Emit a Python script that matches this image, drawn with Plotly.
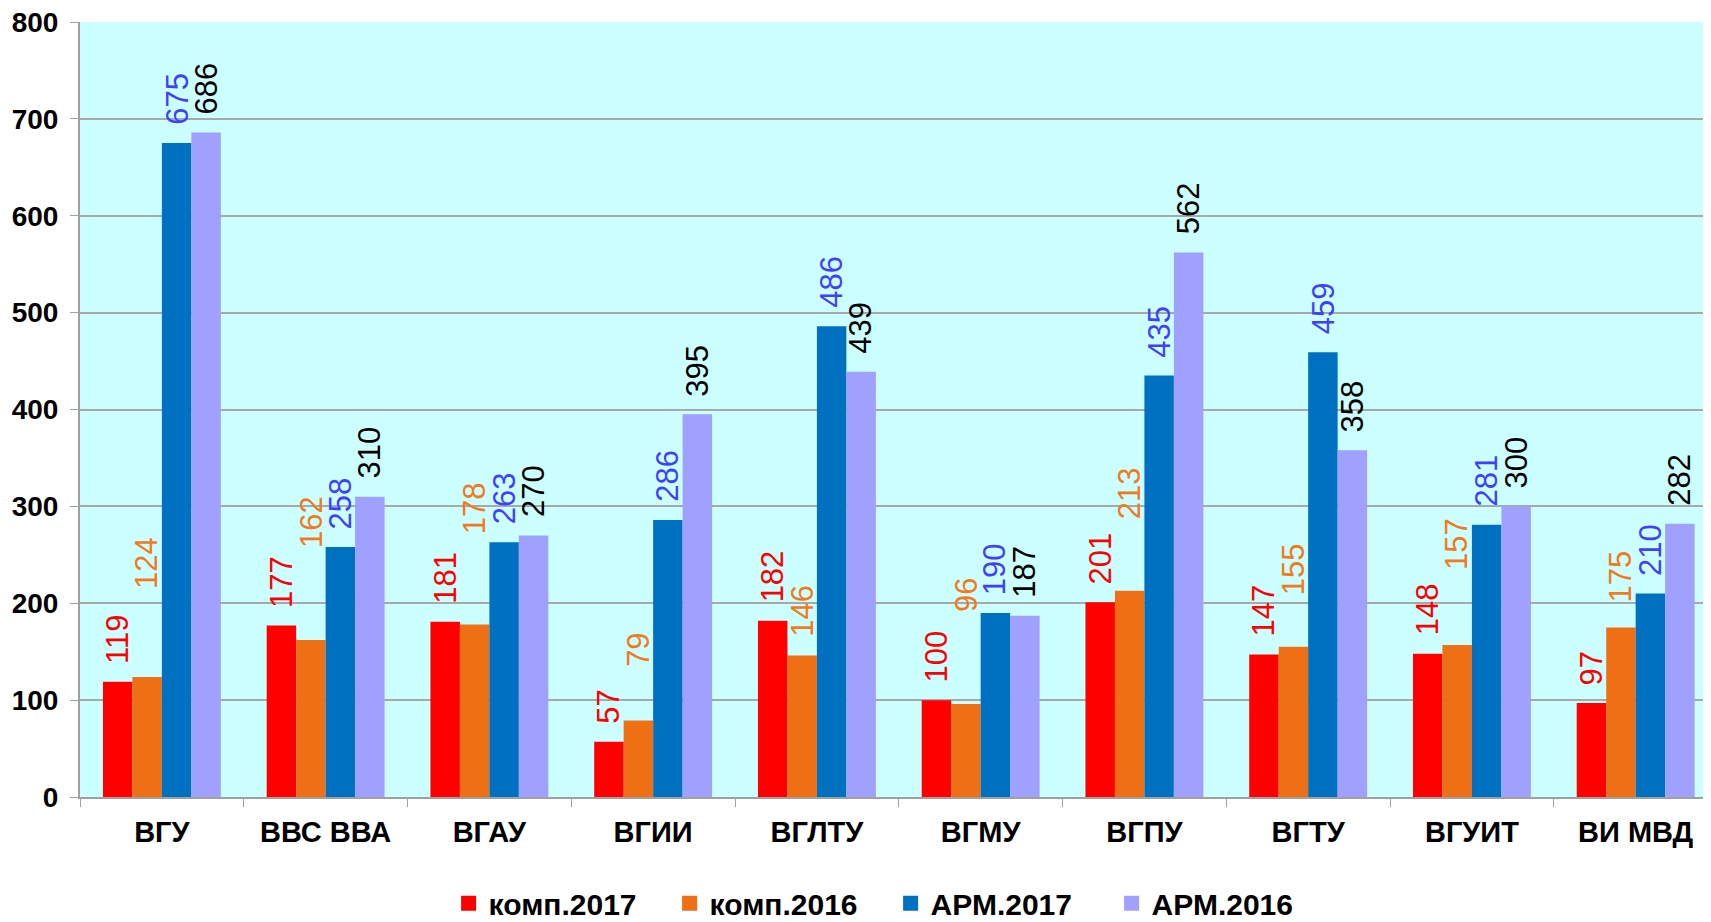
import plotly.graph_objects as go

categories = ["ВГУ", "ВВС ВВА", "ВГАУ", "ВГИИ", "ВГЛТУ", "ВГМУ", "ВГПУ", "ВГТУ", "ВГУИТ", "ВИ МВД"]

komp_2017 = [119, 177, 181, 57, 182, 100, 201, 147, 148, 97]
komp_2016 = [124, 162, 178, 79, 146, 96, 213, 155, 157, 175]
arm_2017 = [675, 258, 263, 286, 486, 190, 435, 459, 281, 210]
arm_2016 = [686, 310, 270, 395, 439, 187, 562, 358, 300, 282]

# extra lift (px) of the orange labels, which sit higher in the original
komp_2016_label_lift = [70, 74, 72, 36, 1, 74, 53, 34, 57, 7]

series = [
    ("комп.2017", komp_2017, "#ff0000", "#ff0000"),
    ("комп.2016", komp_2016, "#ef6f15", "#f27a1c"),
    ("АРМ.2017", arm_2017, "#0070c0", "#3f3fff"),
    ("АРМ.2016", arm_2016, "#a0a0ff", "#000000"),
]

bargap = 0.28
bar_w = (1 - bargap) / len(series)
base_gap = 17

fig = go.Figure()
annotations = []
for i, (name, vals, col, tcol) in enumerate(series):
    fig.add_trace(go.Bar(
        x=categories, y=vals, name=name, showlegend=False,
        marker=dict(color=col, line=dict(width=0)),
    ))
    # legend entry with a bigger square, like the original
    fig.add_trace(go.Scatter(
        x=[None], y=[None], name=name, mode="markers",
        marker=dict(symbol="square", size=15, color=col),
    ))
    offset = (i - (len(series) - 1) / 2) * bar_w
    for j, v in enumerate(vals):
        lift = komp_2016_label_lift[j] if name == "комп.2016" else 0
        annotations.append(dict(
            x=j + offset, y=v, xref="x", yref="y",
            text=str(v), showarrow=False, textangle=-90,
            xanchor="center", yanchor="bottom",
            yshift=base_gap + lift, borderpad=0,
            font=dict(family="Liberation Sans, Arial", size=31, color=tcol),
        ))

# page body has an 8px margin, so the figure is 8px smaller than the window
fig.update_layout(
    width=1703, height=914,
    barmode="group", bargap=bargap, bargroupgap=0,
    paper_bgcolor="white", plot_bgcolor="#ccffff",
    margin=dict(l=72, r=0, t=14, b=125, autoexpand=False),
    font=dict(family="Liberation Sans, Arial", color="black"),
    showlegend=True,
    annotations=annotations,
    legend=dict(
        orientation="h", x=0.226, xanchor="left", y=-0.137, yanchor="middle",
        font=dict(size=30, family="Liberation Sans, Arial", weight="bold"),
        itemwidth=30, traceorder="normal",
        entrywidth=176, entrywidthmode="pixels",
    ),
)

fig.update_xaxes(
    range=[-0.5, 9.46], automargin=False,
    showline=True, linecolor="#a0a0a0", linewidth=2,
    ticks="outside", tickson="boundaries", ticklen=8, tickcolor="#a0a0a0",
    tickfont=dict(size=29, family="Liberation Sans, Arial", weight="bold"),
    ticklabelstandoff=8,
    showgrid=False,
)
fig.update_yaxes(
    range=[0, 800], dtick=100, automargin=False,
    showline=True, linecolor="#a0a0a0", linewidth=2,
    ticks="outside", ticklen=8, tickcolor="#a0a0a0",
    gridcolor="#a8a8a8", gridwidth=2,
    zeroline=False,
    ticklabelstandoff=6, ticklabeloverflow="allow",
    tickfont=dict(size=28, family="Liberation Sans, Arial", weight="bold"),
)

fig.write_html("out.html")
